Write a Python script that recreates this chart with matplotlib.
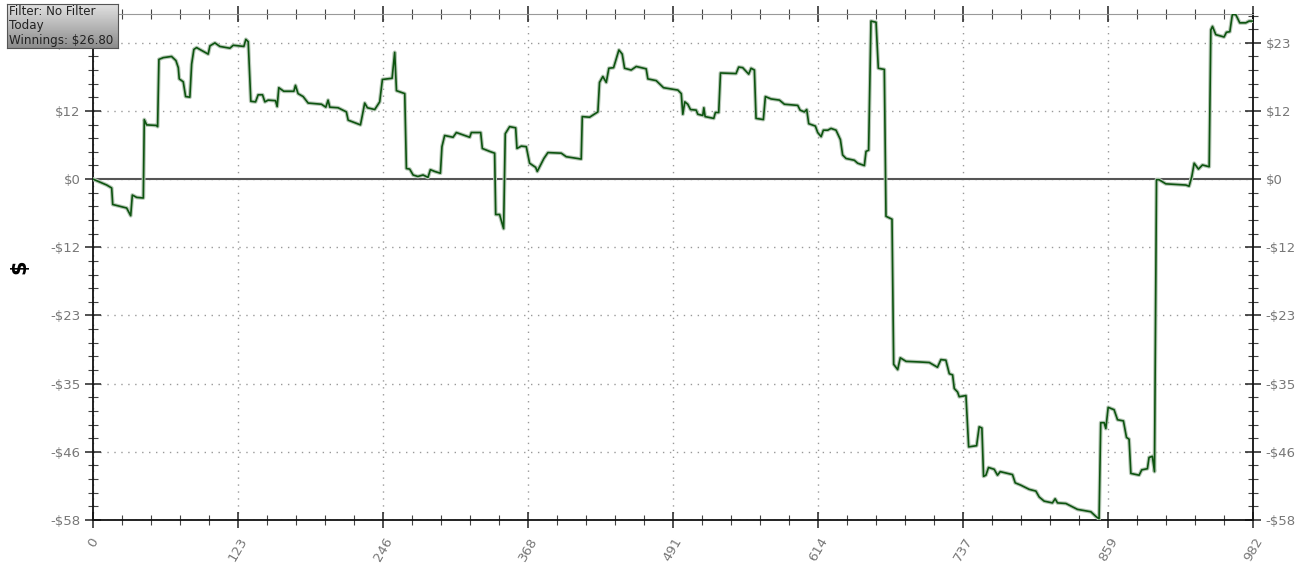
import numpy as np
import matplotlib.pyplot as plt
import matplotlib.patheffects as pe
from matplotlib.ticker import MultipleLocator

# cumulative winnings per hand
hands = [0, 11.6, 15.8, 16.7, 28.5, 31.9, 33.3, 37, 42.6, 43.4, 45.4, 53.9, 54.7,
         55.8, 59.5, 66.5, 70.2, 72.2, 73, 76.4, 78.4, 82, 83.5, 85.4, 87.7, 97.5,
         99, 103.2, 107.4, 115.9, 118.7, 127.7, 129.4, 131.4, 133.6, 137.6, 139.8,
         143.5, 145.5, 148.3, 154.5, 155.9, 157.3, 161.5, 170, 171.4, 173.6, 177.9,
         182.1, 193.4, 197.1, 199, 200.5, 207.5, 214.5, 216, 226.4, 228.1, 230,
         232.3, 238.5, 242.7, 245, 253.2, 255.4, 256.9, 263.9, 265.3, 268.1, 271,
         275, 279.4, 283.6, 285.6, 289.3, 294.1, 295.4, 297.7, 304.8, 307.6, 318.9,
         320.3, 328.2, 329.6, 335.8, 340, 340.9, 344.2, 347.6, 349, 352.7, 357.8,
         358.9, 362.6, 366.8, 369.6, 374.7, 376.1, 378.1, 381.7, 385.1, 396.4,
         400.6, 413.3, 414.2, 420.4, 427.4, 428.8, 431.6, 434.5, 436.7, 440.7,
         445.2, 448, 450, 455.6, 459.9, 468.3, 469.7, 476.8, 483, 495.1, 498,
         499.3, 501, 503.5, 505.8, 510.6, 512, 516.2, 517.1, 518.2, 525.5, 526.9,
         529.7, 531.2, 544.4, 546.6, 550, 555.1, 557.1, 559.9, 561.3, 567.5,
         569.2, 574, 581.1, 585.3, 596.6, 598.6, 602.2, 604.2, 605.9, 611.5,
         613.5, 616.4, 618.3, 622, 624.8, 629, 632.7, 634.6, 637.5, 644.5, 647.3,
         653, 654.4, 656.6, 658.6, 662.9, 664.8, 669.9, 671.3, 676.4, 677.8,
         681.2, 683.4, 688.3, 699.5, 708, 714.9, 717.8, 722, 724.9, 727.7, 729.1,
         731.9, 733.3, 739, 741.3, 748, 750.2, 752.5, 753.9, 755.9, 758.1, 762.9,
         765.7, 768, 778.4, 780.7, 785.5, 792.5, 798.2, 801, 805.2, 812.2, 814.5,
         816.5, 823.6, 833.4, 844.7, 849, 851.7, 853.1, 856, 857.4, 859.4, 864.4,
         867.3, 872.3, 874.9, 877.1, 878.6, 885.6, 887.8, 892.6, 894, 896.8,
         898.6, 900.3, 902.5, 908.2, 925.1, 927.9, 930.2, 932.2, 935.8, 939.2,
         944.9, 946.3, 947.7, 950.5, 957.5, 959.5, 962.4, 964.5, 967.4, 970.8,
         975.9, 978.7, 982]
winnings = [0, -1.0, -1.5, -4.3, -4.9, -6.2, -2.7, -3.1, -3.2, 10.1, 9.2, 9.1, 8.9,
            20.3, 20.6, 20.8, 20.1, 18.9, 17.0, 16.5, 14.0, 13.9, 19.5, 22.0, 22.3,
            21.2, 22.6, 23.1, 22.5, 22.2, 22.7, 22.5, 23.7, 23.3, 13.2, 13.1, 14.3,
            14.3, 13.1, 13.4, 13.3, 12.3, 15.5, 14.9, 14.9, 15.9, 14.5, 14.0, 12.9,
            12.7, 12.2, 13.4, 12.2, 12.1, 11.4, 10.0, 9.2, 10.9, 12.9, 12.1, 11.8,
            13.1, 16.9, 17.1, 21.5, 15.0, 14.5, 1.8, 1.7, 0.7, 0.45, 0.7, 0.3, 1.6,
            1.3, 1.0, 5.5, 7.4, 7.1, 7.9, 7.1, 7.9, 7.9, 5.2, 4.7, 4.4, -6.0, -6.0,
            -8.4, 7.7, 8.9, 8.7, 5.2, 5.6, 5.5, 2.7, 2.0, 1.3, 2.1, 3.5, 4.5, 4.4,
            3.8, 3.4, 10.6, 10.5, 11.4, 16.4, 17.4, 16.4, 18.8, 18.9, 21.9, 21.2,
            18.8, 18.5, 19.1, 18.7, 17.0, 16.7, 15.5, 15.1, 14.5, 11.0, 13.1, 12.7,
            11.8, 11.7, 11.0, 10.8, 12.1, 10.6, 10.3, 11.3, 11.3, 18.0, 17.9, 19.0,
            18.9, 17.8, 18.8, 18.5, 10.3, 10.1, 14.0, 13.6, 13.4, 12.7, 12.5, 11.7,
            11.4, 11.8, 9.4, 9.0, 7.9, 7.2, 8.3, 8.3, 8.6, 8.3, 6.7, 4.1, 3.5, 3.2,
            2.7, 2.3, 4.7, 4.9, 26.8, 26.6, 18.8, 18.6, -6.3, -6.8, -31.4, -32.3,
            -30.3, -30.9, -31.0, -31.1, -31.9, -30.6, -30.7, -33.0, -33.2, -35.5,
            -36.1, -36.9, -36.7, -45.4, -45.2, -42.0, -42.2, -50.4, -50.2, -48.9,
            -49.2, -50.2, -49.6, -50.1, -51.5, -51.9, -52.6, -52.9, -53.9, -54.6,
            -54.9, -54.2, -54.9, -55.0, -56.0, -56.4, -57.2, -57.6, -41.3, -41.3,
            -42.3, -38.7, -39.1, -40.8, -41.0, -43.8, -44.1, -49.9, -50.2, -49.3,
            -49.1, -47.2, -47.0, -49.6, -0.1, -0.1, -0.8, -1.0, -1.2, 0.45, 2.7,
            1.7, 2.4, 2.1, 25.3, 25.9, 24.5, 24.1, 24.9, 25.0, 27.9, 27.9, 26.5,
            26.5, 26.8, 26.8]

x_ticks = np.linspace(0, 982, 9)
x_labels = ["0", "123", "246", "368", "491", "614", "737", "859", "982"]
y_step = 11.56
y_ticks = np.arange(-5, 3) * y_step
y_labels = ["-$58", "-$46", "-$35", "-$23", "-$12", "$0", "$12", "$23"]

fig = plt.figure(figsize=(13.03, 5.66), dpi=100)
ax = fig.add_axes([93 / 1303, 46 / 566, 1160 / 1303, 506 / 566])

ax.plot(hands, winnings, color="#0d5410", lw=1.2, zorder=3,
        path_effects=[pe.Stroke(linewidth=2.8, foreground="#b8c8b8"), pe.Normal()])
ax.axhline(0, color="#555555", lw=1.5, zorder=2)

ax.set_xlim(0, 982)
ax.set_ylim(-5 * y_step, 28.0)
ax.set_xticks(x_ticks)
ax.set_xticklabels(x_labels, rotation=60, ha="center", color="#777777", fontsize=9.5)
ax.set_yticks(y_ticks)
ax.set_yticklabels(y_labels, color="#777777", fontsize=9.5)
ax.xaxis.set_minor_locator(MultipleLocator(982 / 40))
ax.yaxis.set_minor_locator(MultipleLocator(y_step / 5))

ax.tick_params(which="major", direction="inout", length=12, width=1.1, color="#222222",
               left=True, right=True, labelright=True, top=True, pad=3)
ax.tick_params(which="minor", direction="inout", length=7, width=0.8, color="#444444",
               left=True, right=True, top=True)
ax.tick_params(axis="x", which="major", pad=5)

ax.grid(which="major", ls=(0, (1, 4)), color="#999999", lw=1)
for side in ["left", "bottom", "right"]:
    ax.spines[side].set_color("#111111")
    ax.spines[side].set_linewidth(1.3)
ax.spines["top"].set_color("#999999")

ax.set_ylabel("$", fontsize=15, fontweight="bold")
ax.yaxis.set_label_coords(-0.055, 0.5)

# info box in the top-left corner (drawn over the left $23 label, as in the original)
box = fig.add_axes([7 / 1303, 1 - 48 / 566, 111 / 1303, 44 / 566])
grad = np.linspace(0.88, 0.55, 50).reshape(-1, 1)
box.imshow(grad, aspect="auto", cmap="gray", vmin=0, vmax=1, extent=[0, 1, 0, 1])
box.set_xticks([])
box.set_yticks([])
for s in box.spines.values():
    s.set_color("#555555")
box.text(0.02, 0.5, "Filter: No Filter\nToday\nWinnings: $26.80", fontsize=8.6,
         color="#222222", va="center", ha="left", linespacing=1.15,
         transform=box.transAxes)

fig.savefig("out.png", dpi=100)
